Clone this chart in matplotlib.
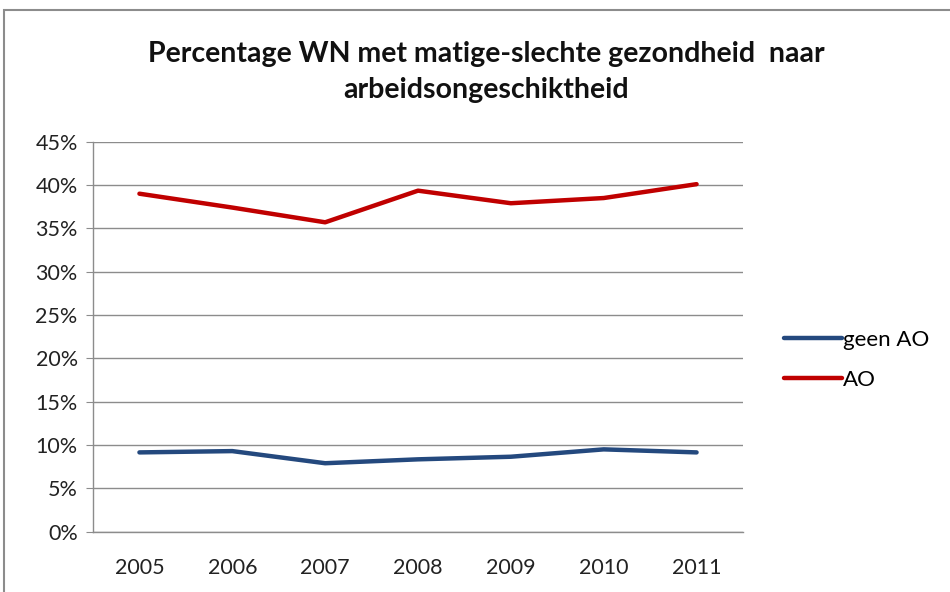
import matplotlib.pyplot as plt
from matplotlib.patches import Rectangle
from matplotlib.ticker import FuncFormatter, MultipleLocator

# ── data ────────────────────────────────────────────────────────────────────
years = ["2005", "2006", "2007", "2008", "2009", "2010", "2011"]
geen_ao = [9.15, 9.3, 7.9, 8.35, 8.65, 9.5, 9.15]
ao = [39.0, 37.4, 35.7, 39.35, 37.9, 38.5, 40.1]

TITLE = "Percentage WN met matige-slechte gezondheid  naar\narbeidsongeschiktheid"
BLUE = "#24497e"
RED = "#c00000"
GRID = "#8c8c8c"

plt.rcParams["font.family"] = ["Lato", "DejaVu Sans"]

fig = plt.figure(figsize=(9.5, 5.92), dpi=100)

# outer chart frame (excel chart border)
fig.patches.append(Rectangle((4 / 950, -0.1), 1.2, (582 + 59.2) / 592,
                             transform=fig.transFigure, fill=False,
                             edgecolor="#8c8c8c", linewidth=1.5))

ax = fig.add_axes([93 / 950, (592 - 531.7) / 592, 650 / 950, 390 / 592])

x = range(len(years))
ax.plot(x, geen_ao, color=BLUE, linewidth=3.2, label="geen AO",
        solid_capstyle="round", solid_joinstyle="round")
ax.plot(x, ao, color=RED, linewidth=3.2, label="AO",
        solid_capstyle="round", solid_joinstyle="round")

ax.set_xlim(-0.5, len(years) - 0.5)
ax.set_ylim(0, 45)
ax.set_xticks(list(x))
ax.set_xticklabels(years)
ax.yaxis.set_major_locator(MultipleLocator(5))
ax.yaxis.set_major_formatter(FuncFormatter(lambda v, _: f"{v:.0f}%"))

ax.grid(axis="y", color=GRID, linewidth=1)
ax.set_axisbelow(True)
for side in ["top", "right"]:
    ax.spines[side].set_visible(False)
for side in ["left", "bottom"]:
    ax.spines[side].set_color(GRID)
    ax.spines[side].set_linewidth(1)

ax.tick_params(axis="y", length=5, color=GRID, labelsize=15.5,
               labelcolor="#222222", pad=6)
ax.tick_params(axis="x", length=0, labelsize=15.5, labelcolor="#222222",
               pad=19)

fig.text(0.512, 0.878, TITLE, ha="center", va="center", fontsize=20.5,
         fontweight="bold", linespacing=1.45, color="#111111")

ax.legend(loc="center left", bbox_to_anchor=(1.05, 0.44), frameon=False,
          fontsize=16, handlelength=2.6, handletextpad=0.05,
          labelspacing=0.9, borderaxespad=0)

fig.savefig("out.png", dpi=100)
